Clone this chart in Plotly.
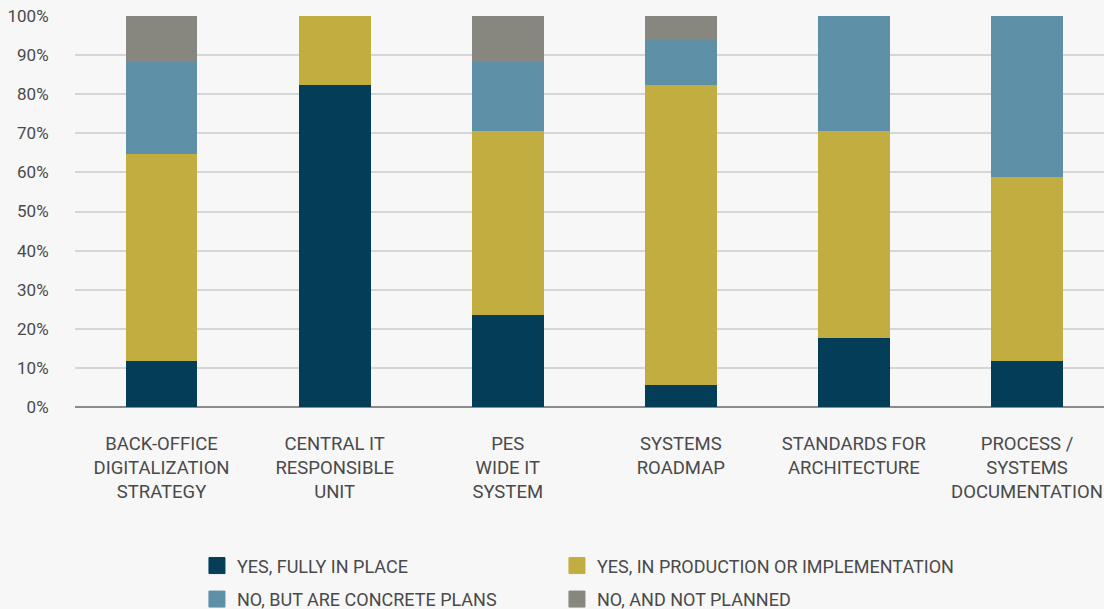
import plotly.graph_objects as go

categories = [
    "BACK-OFFICE<br>DIGITALIZATION<br>STRATEGY",
    "CENTRAL IT<br>RESPONSIBLE<br>UNIT",
    "PES<br>WIDE IT<br>SYSTEM",
    "SYSTEMS<br>ROADMAP",
    "STANDARDS FOR<br>ARCHITECTURE",
    "PROCESS /<br>SYSTEMS<br>DOCUMENTATION",
]

series_names = [
    "YES, FULLY IN PLACE",
    "YES, IN PRODUCTION OR IMPLEMENTATION",
    "NO, BUT ARE CONCRETE PLANS",
    "NO, AND NOT PLANNED",
]

fully_in_place = [11.8, 82.4, 23.5, 5.6, 17.6, 11.8]
in_production = [52.9, 17.6, 47.1, 76.8, 52.9, 47.0]
concrete_plans = [23.5, 0.0, 17.6, 11.7, 29.5, 41.2]
not_planned = [11.8, 0.0, 11.8, 5.9, 0.0, 0.0]

series_values = [fully_in_place, in_production, concrete_plans, not_planned]
colors = ["#033d58", "#c2ad40", "#5e90a8", "#88877f"]

# legend key grid: 2 columns x 2 rows, one legend box per key
legend_ids = ["legend", "legend2", "legend3", "legend4"]
legend_x = [0.1784, 0.5045, 0.1784, 0.5045]
legend_y = [0.1012, 0.1012, 0.0462, 0.0462]

y_ticks = list(range(0, 101, 10))
y_tick_labels = [f"{v}%" for v in y_ticks]

font_family = "Roboto, 'Open Sans', sans-serif"
text_color = "#4a4a4a"

fig = go.Figure()
for name, vals, col in zip(series_names, series_values, colors):
    fig.add_trace(go.Bar(
        x=list(range(len(categories))),
        y=vals,
        name=name,
        legendgroup=name,
        showlegend=False,
        marker=dict(color=col, line=dict(width=0)),
        width=0.415,
    ))

# legend swatches: larger square keys than the default bar symbol
for name, col, leg in zip(series_names, colors, legend_ids):
    fig.add_trace(go.Scatter(
        x=[None], y=[None],
        mode="markers",
        name=name,
        legendgroup=name,
        legend=leg,
        marker=dict(symbol="square", size=16, color=col, line=dict(width=1, color=col)),
        hoverinfo="skip",
    ))

legend_layout = {}
for leg, lx, ly in zip(legend_ids, legend_x, legend_y):
    legend_layout[leg] = dict(
        orientation="h",
        xref="container", yref="container",
        x=lx, xanchor="left",
        y=ly, yanchor="top",
        font=dict(family=font_family, size=18, color=text_color),
        bgcolor="rgba(0,0,0,0)",
        itemsizing="trace",
    )

fig.update_layout(
    barmode="stack",
    width=1104,
    height=609,
    paper_bgcolor="#f7f7f7",
    plot_bgcolor="#f7f7f7",
    margin=dict(l=75, r=0, t=16, b=202),
    font=dict(family=font_family, size=16, color=text_color),
    showlegend=True,
    **legend_layout,
)

fig.update_xaxes(
    tickmode="array",
    tickvals=list(range(len(categories))),
    ticktext=categories,
    range=[-0.5, 5.445],
    showgrid=False,
    zeroline=False,
    showline=False,
    ticks="outside",
    ticklen=20,
    tickcolor="rgba(0,0,0,0)",
    tickfont=dict(size=18.5, color=text_color),
    ticklabeloverflow="allow",
)

fig.update_yaxes(
    range=[0, 100],
    tickmode="array",
    tickvals=y_ticks,
    ticktext=y_tick_labels,
    showgrid=True,
    gridcolor="#d6d6d6",
    gridwidth=2,
    zeroline=True,
    zerolinecolor="#8c8c8c",
    zerolinewidth=2,
    ticks="outside",
    ticklen=22,
    tickcolor="rgba(0,0,0,0)",
    tickfont=dict(size=17, color=text_color),
)

fig.write_html("out.html")
